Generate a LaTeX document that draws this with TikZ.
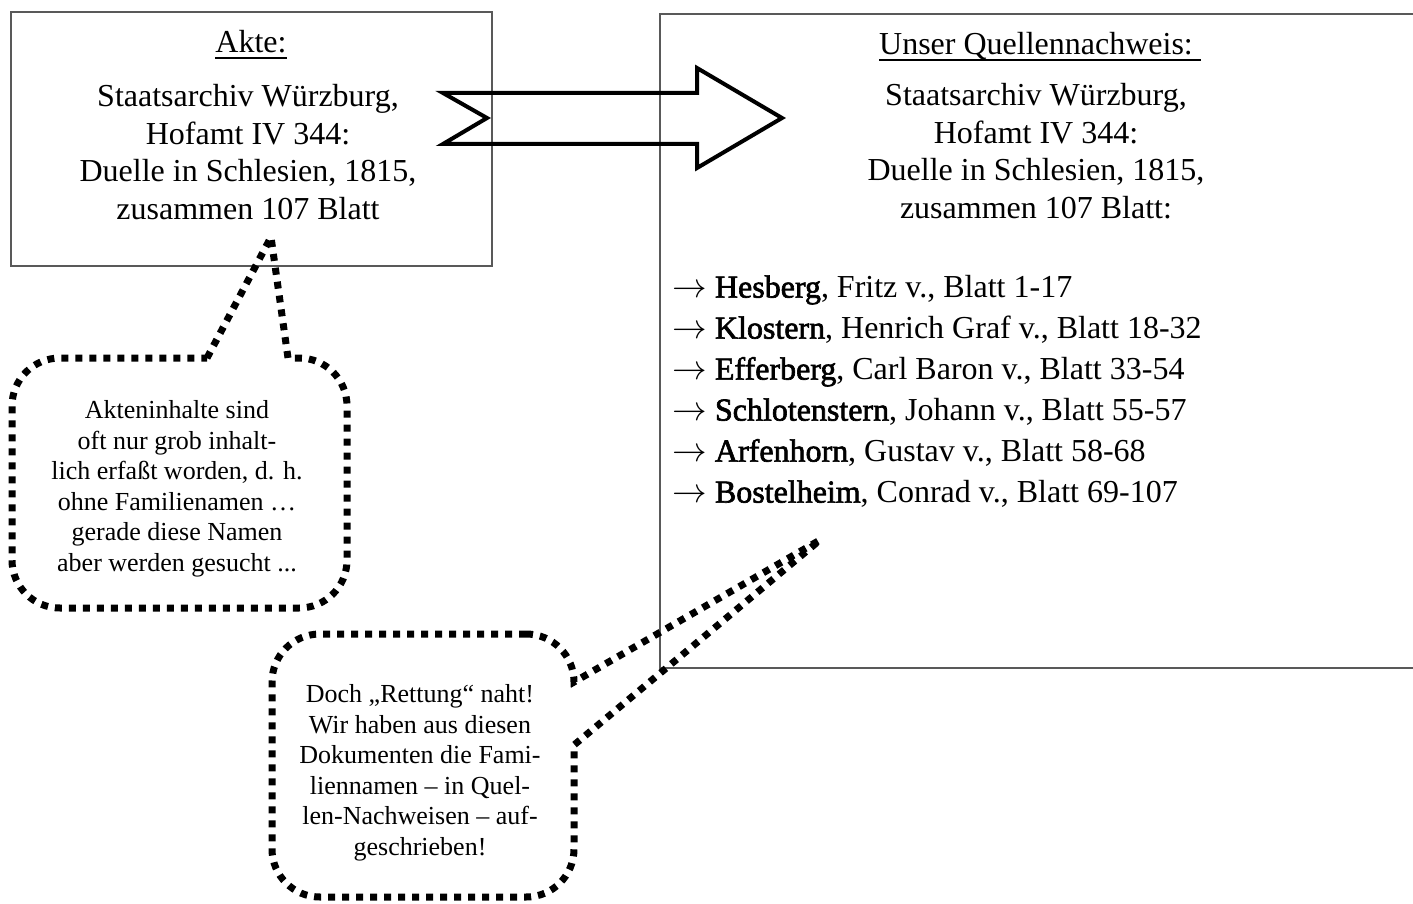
\documentclass[tikz,border=0pt]{standalone}
\usepackage{fontspec}
\setmainfont{Liberation Serif}
\newfontfamily\namefont[FakeBold=2]{Liberation Serif}
\usepackage{tikz}
\newcommand{\nm}[1]{{\namefont #1}}
\newcommand{\unter}[1]{\setbox0\hbox{#1}\rlap{\rule[-3pt]{\wd0}{0.9pt}}\box0}
\def\pfeil{$\rightarrow$}
\tikzset{
  box/.style={draw=black!65, line width=0.75pt},
  bubble/.style={line width=3.5pt, dash pattern=on 3.5pt off 3.5pt},
  bigtxt/.style={align=center, inner sep=0pt, font=\fontsize{16}{18.75}\selectfont},
  smalltxt/.style={align=center, inner sep=0pt, font=\fontsize{13}{15.3}\selectfont},
  liste/.style={align=left, inner sep=0pt, font=\fontsize{16}{20.5}\selectfont}
}

\begin{document}
\begin{tikzpicture}[x=0.5pt,y=-0.5pt]
\useasboundingbox (0,0) rectangle (1413,904);
% the two boxes
\draw[box] (11,12) rectangle (492,266);
\draw[box] (1413,14) -- (660,14) -- (660,668) -- (1413,668);
\node[bigtxt, anchor=base] (akte) at (251,53) {\unter{Akte:}};
\node[bigtxt, anchor=north] (aktetext) at (248,84) {Staatsarchiv Würzburg,\\Hofamt IV 344:\\Duelle in Schlesien, 1815,\\zusammen 107 Blatt};
\node[bigtxt, anchor=base] (quelle) at (1040,55) {\unter{Unser Quellennachweis:\ }};
\node[bigtxt, anchor=north] (quelletext) at (1036,83) {Staatsarchiv Würzburg,\\Hofamt IV 344:\\Duelle in Schlesien, 1815,\\zusammen 107 Blatt:};
\node[liste, anchor=north west] (namen) at (672,275) {\pfeil{} \nm{Hesberg}, Fritz v., Blatt 1-17\\
\pfeil{} \nm{Klostern}, Henrich Graf v., Blatt 18-32\\
\pfeil{} \nm{Efferberg}, Carl Baron v., Blatt 33-54\\
\pfeil{} \nm{Schlotenstern}, Johann v., Blatt 55-57\\
\pfeil{} \nm{Arfenhorn}, Gustav v., Blatt 58-68\\
\pfeil{} \nm{Bostelheim}, Conrad v., Blatt 69-107};
% block arrow
\draw[line width=2pt] (443,93) -- (697,93) -- (697,68) -- (782,118) -- (697,168) -- (697,144) -- (443,144) -- (487,118) -- cycle;
% speech bubbles
\draw[bubble] (207,358) -- (271,237) -- (288,358) -- (299,358) to[out=0,in=90] (347,406) -- (347,560) to[out=-90,in=0] (299,608) -- (60,608) to[out=180,in=-90] (12,560) -- (12,406) to[out=90,in=180] (60,358) -- cycle;
\node[smalltxt, anchor=north] (hinweis) at (177,400) {Akteninhalte sind\\oft nur grob inhalt-\\lich erfaßt worden, d. h.\\ohne Familienamen …\\gerade diese Namen\\aber werden gesucht ...};
\draw[bubble] (526,634) to[out=0,in=90] (574,682) -- (820,540) -- (574,745) -- (574,849) to[out=-90,in=0] (526,897) -- (320,897) to[out=180,in=-90] (272,849) -- (272,682) to[out=90,in=180] (320,634) -- cycle;
\node[smalltxt, anchor=north] (rettung) at (420,684) {Doch „Rettung“ naht!\\Wir haben aus diesen\\Dokumenten die Fami-\\liennamen – in Quel-\\len-Nachweisen – auf-\\geschrieben!};
\end{tikzpicture}
\end{document}
